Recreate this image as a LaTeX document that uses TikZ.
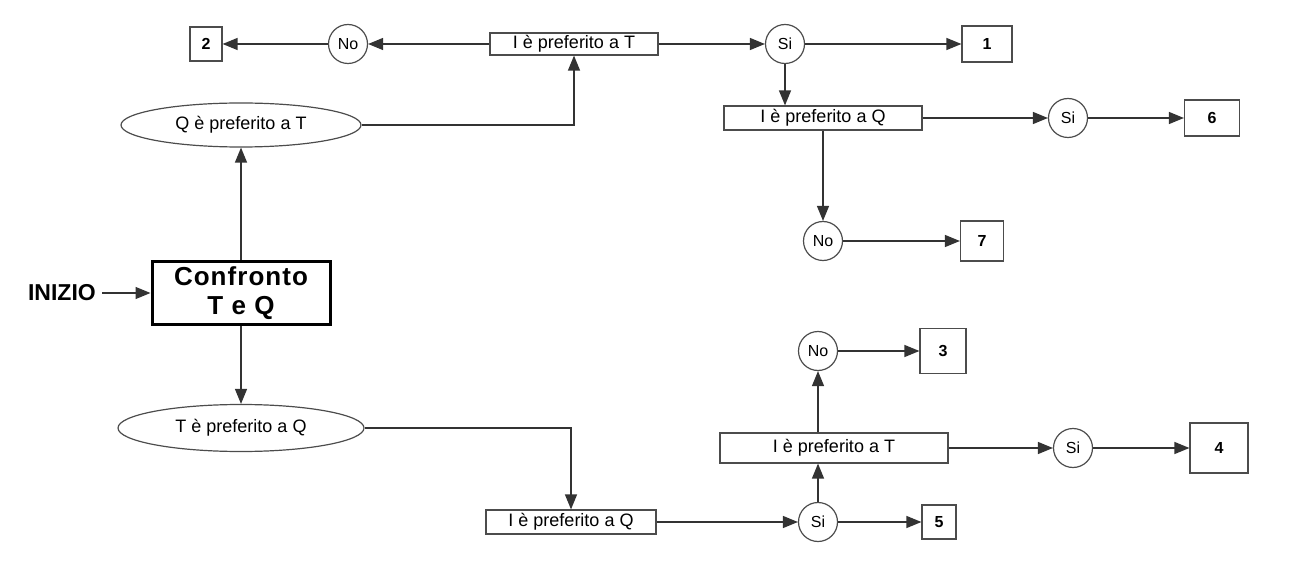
\documentclass[tikz,border=0pt]{standalone}
\usepackage{fontspec}
\setmainfont{Liberation Sans}
\usetikzlibrary{arrows.meta,shapes.geometric}
\begin{document}
\begin{tikzpicture}[x=1pt,y=-1pt,
  conn/.style={draw=black!80, line width=1.3pt, -{Triangle[length=15pt,width=12pt]}},
  rbox/.style={draw=black!70, line width=1.2pt, rectangle, inner sep=0pt, font=\fontsize{18}{21}\selectfont},
  nbox/.style={draw=black!70, line width=1.2pt, rectangle, inner sep=0pt, font=\bfseries\fontsize{16}{19}\selectfont},
  circ/.style={draw=black!70, line width=1.2pt, circle, minimum size=39pt, inner sep=0pt, font=\fontsize{16}{19}\selectfont},
  ell/.style={draw=black!70, line width=1.2pt, ellipse, inner sep=0pt, font=\fontsize{18}{21}\selectfont},
  cfbox/.style={draw=black, line width=3pt, rectangle, inner sep=0pt, align=center, font=\bfseries\fontsize{26}{29}\selectfont\addfontfeature{LetterSpace=4}},
  start/.style={inner sep=0pt, font=\bfseries\fontsize{23}{27}\selectfont}
]
\useasboundingbox (0,0) rectangle (1298,577);

% top branch
\node[nbox, minimum width=32pt, minimum height=34pt] (b2) at (206,44) {2};
\node[circ] (no1) at (348,44) {No};
\node[rbox, minimum width=168pt, minimum height=22pt] (r1) at (574,44) {I è preferito a T};
\node[circ] (si1) at (785,44) {Si};
\node[nbox, minimum width=50pt, minimum height=36pt] (b1) at (987,44) {1};
\node[rbox, minimum width=198pt, minimum height=24pt] (r2) at (823,118) {I è preferito a Q};
\node[circ] (si2) at (1068,118) {Si};
\node[nbox, minimum width=55pt, minimum height=36pt] (b6) at (1212,118) {6};
\node[circ] (no2) at (823,241) {No};
\node[nbox, minimum width=43pt, minimum height=40pt] (b7) at (982,241) {7};

% left
\node[ell, minimum width=240pt, minimum height=44pt] (q) at (241,125) {Q è preferito a T};
\node[cfbox, minimum width=178pt, minimum height=63pt] (cf) at (241,293) {Confronto\\T e Q};
\node[start, anchor=east] (inizio) at (96,293) {INIZIO};
\node[ell, minimum width=246pt, minimum height=47pt] (t) at (241,428) {T è preferito a Q};

% bottom branch
\node[rbox, minimum width=170pt, minimum height=24pt] (r3) at (571,522) {I è preferito a Q};
\node[circ] (si3) at (818,522) {Si};
\node[nbox, minimum width=34pt, minimum height=34pt] (b5) at (939,522) {5};
\node[rbox, minimum width=228pt, minimum height=30pt] (r4) at (834,448) {I è preferito a T};
\node[circ] (no3) at (818,351) {No};
\node[nbox, minimum width=46pt, minimum height=45pt] (b3) at (943,351) {3};
\node[circ] (si4) at (1073,448) {Si};
\node[nbox, minimum width=58pt, minimum height=50pt] (b4) at (1219,448) {4};

% connectors
\draw[conn] (r1.west) -- (no1.east);
\draw[conn] (no1.west) -- (b2.east);
\draw[conn] (r1.east) -- (si1.west);
\draw[conn] (si1.east) -- (b1.west);
\draw[conn] (si1.south) -- (si1.south |- r2.north);
\draw[conn] (r2.east) -- (si2.west);
\draw[conn] (si2.east) -- (b6.west);
\draw[conn] (r2.south) -- (no2.north);
\draw[conn] (no2.east) -- (b7.west);
\draw[conn] (q.east) -| (r1.south);
\draw[conn] (cf.north) -- (q.south);
\draw[conn] ([xshift=6pt]inizio.east) -- (cf.west);
\draw[conn] (cf.south) -- (t.north);
\draw[conn] (t.east) -| (r3.north);
\draw[conn] (r3.east) -- (si3.west);
\draw[conn] (si3.east) -- (b5.west);
\draw[conn] (si3.north) -- (si3.north |- r4.south);
\draw[conn] (si3.north |- r4.north) -- (no3.south);
\draw[conn] (no3.east) -- (b3.west);
\draw[conn] (r4.east) -- (si4.west);
\draw[conn] (si4.east) -- (b4.west);
\end{tikzpicture}
\end{document}
